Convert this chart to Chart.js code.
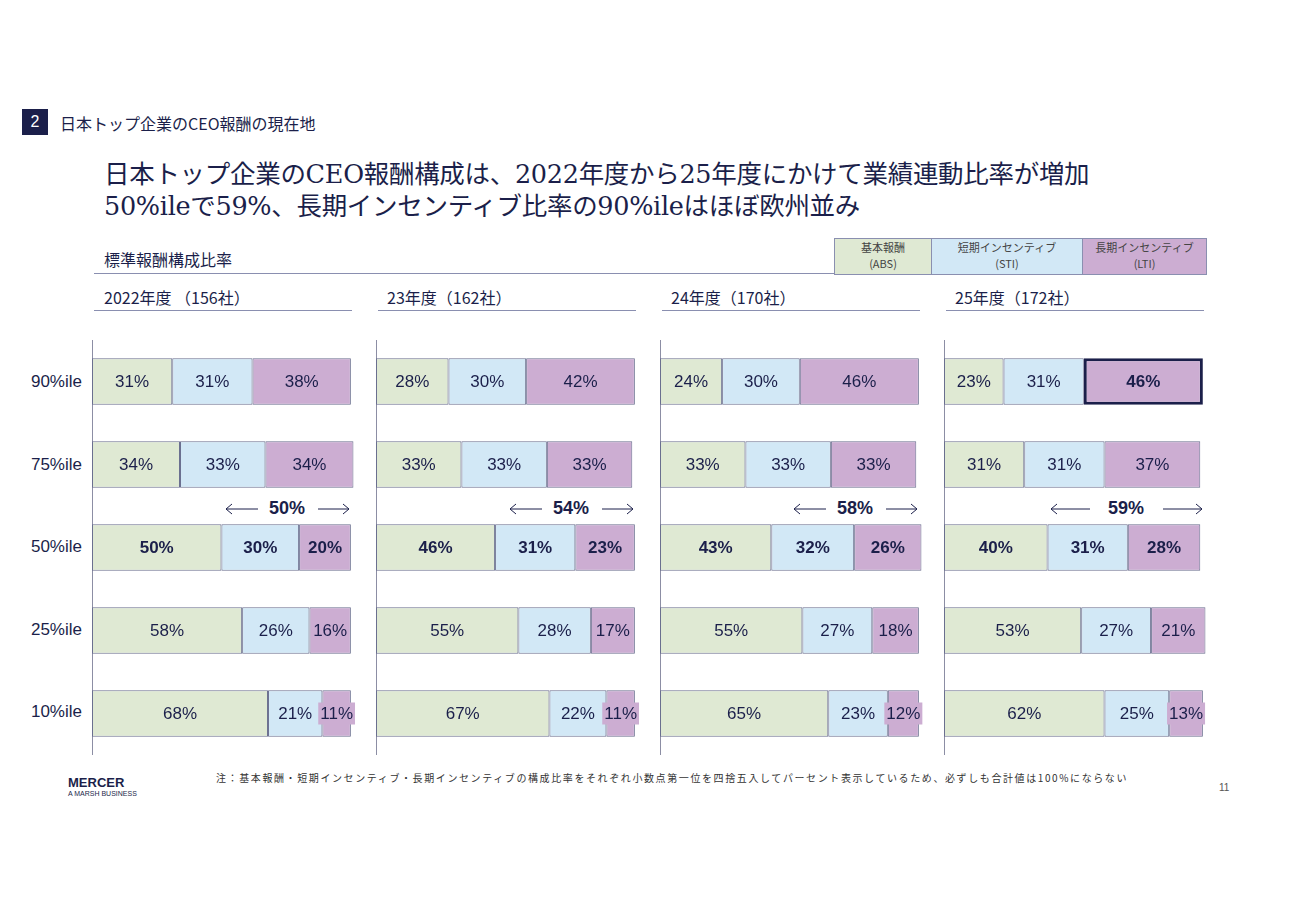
<!DOCTYPE html>
<html><head><meta charset="utf-8">
<script src="https://cdn.jsdelivr.net/npm/chart.js@4/dist/chart.umd.min.js"></script>
<style>
body{margin:0;width:1300px;height:919px;background:#fff;position:relative;font-family:"Liberation Sans","Noto Sans CJK JP",sans-serif;color:#1b1f4a;overflow:hidden}
.a{position:absolute}
.jp{font-family:"Noto Sans CJK JP",sans-serif}
.hdr{font-size:16px}
.line{position:absolute;height:1px;background:#8a8fb0}
canvas{position:absolute}
.row{position:absolute;left:20px;width:62px;text-align:right;font-size:17px}
.pct{position:absolute;top:498px;font-size:18px;font-weight:bold;width:60px;text-align:center}
svg{position:absolute;top:502px}
</style></head><body>
<div class="a" style="left:22px;top:109px;width:26px;height:26px;background:#1b1f4a;color:#fff;font-size:16px;text-align:center;line-height:26px">2</div>
<div class="a jp" style="left:60px;top:111px;font-size:16px">日本トップ企業のCEO報酬の現在地</div>
<div class="a" style="left:104px;top:158px;font-size:25.5px;line-height:32px;font-family:'DejaVu Serif','Noto Sans CJK JP',serif;letter-spacing:-0.3px;white-space:nowrap">日本トップ企業のCEO報酬構成は、2022年度から25年度にかけて業績連動比率が増加<br>50%ileで59%、長期インセンティブ比率の90%ileはほぼ欧州並み</div>
<div class="a jp" style="left:104px;top:247px;font-size:16px">標準報酬構成比率</div>
<div class="line" style="left:94px;top:273px;width:1110px"></div>
<div class="a jp" style="left:834px;top:238px;width:96px;height:35px;background:#dfe9d3;border:1px solid #8a8fb0;font-size:11px;text-align:center;line-height:16px;color:#444">基本報酬<br>(ABS)</div>
<div class="a jp" style="left:931px;top:238px;width:150px;height:35px;background:#d2e8f6;border:1px solid #8a8fb0;font-size:11px;text-align:center;line-height:16px;color:#444">短期インセンティブ<br>(STI)</div>
<div class="a jp" style="left:1082px;top:238px;width:123px;height:35px;background:#ccadd2;border:1px solid #8a8fb0;font-size:11px;text-align:center;line-height:16px;color:#444">長期インセンティブ<br>(LTI)</div>
<div class="a jp hdr" style="left:104px;top:285px">2022年度 （156社）</div>
<div class="a jp hdr" style="left:387px;top:285px">23年度（162社）</div>
<div class="a jp hdr" style="left:671px;top:285px">24年度（170社）</div>
<div class="a jp hdr" style="left:955px;top:285px">25年度（172社）</div>
<div class="line" style="left:94px;top:310px;width:258px"></div>
<div class="line" style="left:378px;top:310px;width:258px"></div>
<div class="line" style="left:662px;top:310px;width:258px"></div>
<div class="line" style="left:946px;top:310px;width:258px"></div>
<div class="row" style="top:372px">90%ile</div>
<div class="row" style="top:455px">75%ile</div>
<div class="row" style="top:537px">50%ile</div>
<div class="row" style="top:620px">25%ile</div>
<div class="row" style="top:702px">10%ile</div>
<div id="arrows"></div>
<canvas id="c0" style="left:92px;top:340px"></canvas>
<canvas id="c1" style="left:376px;top:340px"></canvas>
<canvas id="c2" style="left:660px;top:340px"></canvas>
<canvas id="c3" style="left:944px;top:340px"></canvas>
<div class="a" style="left:68px;top:775px;font-size:13px;font-weight:bold;color:#1b1f4a">MERCER</div>
<div class="a" style="left:68px;top:790px;font-size:7px;color:#1b1f4a">A MARSH BUSINESS</div>
<div class="a jp" style="left:216px;top:770px;width:975px;font-size:10px;line-height:15px;letter-spacing:1.6px;color:#333">注：基本報酬・短期インセンティブ・長期インセンティブの構成比率をそれぞれ小数点第一位を四捨五入してパーセント表示しているため、必ずしも合計値は100%にならない</div>
<div class="a" style="left:1219px;top:782px;font-size:10px;color:#555">11</div>
<script>
const rows = ['90%ile','75%ile','50%ile','25%ile','10%ile'];
const years = ['2022年度','23年度','24年度','25年度'];
const abs = [[31,34,50,58,68],[28,33,46,55,67],[24,33,43,55,65],[23,31,40,53,62]];
const sti = [[31,33,30,26,21],[30,33,31,28,22],[30,33,32,27,23],[31,31,31,27,25]];
const lti = [[38,34,20,16,11],[42,33,23,17,11],[46,33,26,18,12],[46,37,28,21,13]];
const perf = ['50%','54%','58%','59%'];
const fills = ['#dfe9d3','#d2e8f6','#ccadd2'];
const navy = '#1b1f4a';

// performance-linked arrows
const arrowSpec = [[225,258,287,318,350],[509,542,571,602,634],[793,826,855,886,918],[1050,1090,1126,1163,1203]];
let html = '';
arrowSpec.forEach((a,k)=>{
  const [l0,l1,c,r0,r1] = a;
  html += '<svg style="left:'+l0+'px" width="'+(l1-l0)+'" height="14"><path d="M1 7H'+(l1-l0)+'M7 2L1 7L7 12" stroke="'+navy+'" fill="none" stroke-width="1"/></svg>';
  html += '<div class="pct" style="left:'+(c-30)+'px">'+perf[k]+'</div>';
  const w = r1-r0;
  html += '<svg style="left:'+r0+'px" width="'+w+'" height="14"><path d="M0 7H'+(w-1)+'M'+(w-7)+' 2L'+(w-1)+' 7L'+(w-7)+' 12" stroke="'+navy+'" fill="none" stroke-width="1"/></svg>';
});
document.getElementById('arrows').innerHTML = html;

const labelPlugin = {
  id:'lbl',
  afterDatasetsDraw(chart){
    const ctx = chart.ctx;
    chart.data.datasets.forEach((ds,di)=>{
      chart.getDatasetMeta(di).data.forEach((bar,i)=>{
        const bold = i===2 || (chart.$hi && di===2 && i===0);
        ctx.font = (bold?'bold ':'')+'17px "Liberation Sans",sans-serif';
        const t = ds.data[i]+'%';
        const cx = (bar.x+bar.base)/2, w = ctx.measureText(t).width;
        if (Math.abs(bar.x-bar.base) < w+4) {
          ctx.fillStyle = fills[di];
          ctx.fillRect(cx-w/2-2, bar.y-11, w+4, 22);
        }
        ctx.fillStyle = navy; ctx.textAlign='center'; ctx.textBaseline='middle';
        ctx.fillText(t, cx, bar.y+1);
      });
    });
  }
};

years.forEach((y,k)=>{
  const cv = document.getElementById('c'+k);
  cv.width = 270; cv.height = 415;
  const bc = (k===3) ? c => (c.datasetIndex===2 && c.dataIndex===0) ? navy : '#6a6f8f' : '#6a6f8f';
  const mk = (d,di)=>({data:d[k], backgroundColor:fills[di], borderColor:bc,
    borderWidth: (k===3 && di===2) ? [3,1,1,1,1] : 1,
    borderSkipped:false, barPercentage:0.56, categoryPercentage:1});
  const ch = new Chart(cv,{type:'bar',data:{labels:rows,datasets:[mk(abs,0),mk(sti,1),mk(lti,2)]},
    options:{indexAxis:'y',responsive:false,animation:false,layout:{padding:0},
      plugins:{legend:{display:false},tooltip:{enabled:false}},
      scales:{x:{stacked:true,min:0,max:104.3,display:false},
        y:{stacked:true,ticks:{display:false},grid:{display:false,drawTicks:false},
           border:{display:true,color:navy,width:1.5}}}},
    plugins:[labelPlugin]});
  ch.$hi = k===3; ch.draw();
});
</script>
</body></html>
